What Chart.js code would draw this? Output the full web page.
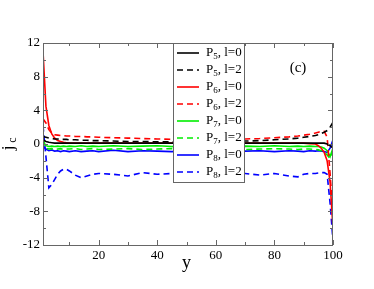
<!DOCTYPE html>
<html>
<head>
<meta charset="utf-8">
<script src="https://cdn.jsdelivr.net/npm/chart.js@4/dist/chart.umd.min.js"></script>
<style>
  body { margin: 0; background: #fff; }
  #wrap { width: 374px; height: 289px; position: relative; }
</style>
</head>
<body>
<div id="wrap"><canvas id="c"></canvas></div>
<script>
// y positions along the chain (denser near the ends)
const xs = [1,2,3,4,5,6,7,8,9,10, 12,14,16,18,20, 25,30,35,40,45, 50,55,60,65,70, 75,80,85,88,90, 92,94,95,96,97,98,99,100];

const p5l0 = [0.5,0.3,0.2,0.15,0.1,0.1,0.1,0.1,0.1,0.1, 0.1,0.1,0.1,0.1,0.1, 0.1,0.1,0.1,0.1,0.1, 0.1,0.1,0.1,0.1,0.1, 0.1,0.1,0.1,0.1,0.1, 0.1,0.1,0.1,0.1,0.1, 0.0,-0.2,-0.5];
const p5l2 = [0.9,0.8,0.7,0.65,0.6,0.6,0.55,0.55,0.55,0.5, 0.5,0.45,0.45,0.4,0.4, 0.35,0.3,0.3,0.25,0.25, 0.2,0.25,0.25,0.3,0.35, 0.4,0.5,0.6,0.7,0.8, 0.9,1.0,1.1,1.25,1.4, 1.6,2.0,2.6];
const p6l0 = [11,4.5,2.2,1.2,0.7,0.4,0.3,0.2,0.15,0.1, 0.1,0.1,0.1,0.1,0.1, 0.1,0.1,0.1,0.1,0.1, 0.1,0.1,0.1,0.1,0.1, 0.1,0.1,0.1,0.1,0.1, 0.05,0,-0.2,-0.5,-1.0,-2.0,-4.5,-10];
const p6l2 = [3.0,2.5,1.7,1.3,1.1,1.05,1.0,1.0,0.95,0.95, 0.9,0.9,0.85,0.85,0.8, 0.75,0.7,0.65,0.6,0.55, 0.5,0.5,0.5,0.55,0.6, 0.65,0.75,0.85,0.95,1.05, 1.15,1.3,1.4,1.5,1.5, 0.8,-3.5,-8.5];
const p7l0 = [0.3,-0.2,-0.3,-0.25,-0.3,-0.25,-0.3,-0.25,-0.3,-0.25, -0.3,-0.2,-0.3,-0.25,-0.3, -0.2,-0.3,-0.25,-0.2,-0.3, -0.25,-0.3,-0.2,-0.3,-0.25, -0.3,-0.2,-0.3,-0.25,-0.3, -0.25,-0.3,-0.3,-0.35,-0.5, -0.8,-1.5,-0.5];
const p7l2 = [0.5,-0.5,-0.6,-0.55,-0.65,-0.6,-0.55,-0.65,-0.6,-0.6, -0.55,-0.65,-0.6,-0.55,-0.65, -0.6,-0.55,-0.65,-0.6,-0.55, -0.65,-0.6,-0.6,-0.55,-0.65, -0.6,-0.55,-0.6,-0.65,-0.6, -0.6,-0.65,-0.7,-0.8,-1.0, -1.3,-1.7,-0.8];
const p8l0 = [-0.3,-0.6,-0.8,-0.7,-0.85,-0.8,-0.9,-0.8,-0.85,-0.9, -0.8,-0.9,-0.85,-0.8,-0.9, -0.75,-0.9,-0.8,-0.85,-0.9, -0.8,-0.85,-0.75,-0.9,-0.85, -0.8,-0.9,-0.8,-0.85,-0.9, -0.8,-0.85,-0.8,-0.85,-0.9, -1.0,-0.5,0.5];
const p8l2 = [2.2,-1.5,-5.2,-4.8,-4.2,-3.6,-3.2,-3.0,-3.0,-3.2, -3.7,-4.0,-3.8,-3.6,-3.5, -3.6,-3.8,-3.4,-3.6,-3.5, -3.6,-3.7,-3.5,-3.6,-3.5, -3.7,-3.5,-3.8,-3.9,-3.6, -3.5,-3.5,-3.45,-3.4,-3.4, -3.6,-7,-11.5];

const seriesIdx = ['5','5','6','6','7','7','8','8'];
const seriesL = ['0','2','0','2','0','2','0','2'];
const seriesVals = [p5l0, p5l2, p6l0, p6l2, p7l0, p7l2, p8l0, p8l2];
const colors = ['#000000','#000000','#ff0000','#ff0000','#00ee00','#00ee00','#0000ff','#0000ff'];

const xTicks = [20, 40, 60, 80, 100];
const yTicks = [-12, -8, -4, 0, 4, 8, 12];

const FONT = '"Liberation Serif", "Times New Roman", serif';
const FRAME = '#666';

const datasets = seriesVals.map((vals, i) => ({
    label: 'P' + seriesIdx[i] + ', l=' + seriesL[i],
    data: vals.map((v, j) => ({x: xs[j], y: v})),
    borderColor: colors[i],
    borderWidth: 1.6,
    borderDash: seriesL[i] === '2' ? [6, 4] : [],
    pointRadius: 0,
    tension: 0,
    fill: false
}));

const decor = {
    id: 'decor',
    afterDraw(chart) {
        const ctx = chart.ctx;
        const a = chart.chartArea;
        const sx = chart.scales.x, sy = chart.scales.y;
        ctx.save();
        // frame
        ctx.strokeStyle = FRAME;
        ctx.lineWidth = 1;
        ctx.strokeRect(a.left + 0.5, a.top + 0.5, a.right - a.left - 1, a.bottom - a.top);
        // inward ticks
        ctx.beginPath();
        for (let v = 10; v <= 100; v += 10) {
            const px = Math.round(sx.getPixelForValue(v)) + 0.5;
            const len = v % 20 === 0 ? 5 : 3;
            ctx.moveTo(px, a.bottom); ctx.lineTo(px, a.bottom - len);
            ctx.moveTo(px, a.top); ctx.lineTo(px, a.top + len);
        }
        for (let v = -12; v <= 12; v += 2) {
            const py = Math.round(sy.getPixelForValue(v)) + 0.5;
            const len = v % 4 === 0 ? 5 : 3;
            ctx.moveTo(a.left, py); ctx.lineTo(a.left + len, py);
            ctx.moveTo(a.right, py); ctx.lineTo(a.right - len, py);
        }
        ctx.stroke();

        // legend box
        const lx = a.left + 130, ly = a.top, lw = 71, lh = 139;
        ctx.fillStyle = '#fff';
        ctx.fillRect(lx, ly, lw, lh);
        ctx.strokeStyle = FRAME;
        ctx.strokeRect(lx + 0.5, ly + 0.5, lw, lh);
        chart.data.datasets.forEach((ds, i) => {
            const yy = ly + 10 + i * 17;
            ctx.strokeStyle = ds.borderColor;
            ctx.lineWidth = 1.6;
            ctx.setLineDash(ds.borderDash);
            ctx.beginPath();
            ctx.moveTo(lx + 4, yy); ctx.lineTo(lx + 26, yy);
            ctx.stroke();
            ctx.setLineDash([]);
            ctx.fillStyle = '#000';
            ctx.textBaseline = 'middle';
            ctx.textAlign = 'left';
            let tx = lx + 33;
            ctx.font = '13px ' + FONT;
            ctx.fillText('P', tx, yy);
            tx += ctx.measureText('P').width;
            ctx.font = '9px ' + FONT;
            ctx.fillText(seriesIdx[i], tx, yy + 4);
            tx += ctx.measureText(seriesIdx[i]).width;
            ctx.font = '13px ' + FONT;
            ctx.fillText(', l=' + seriesL[i], tx, yy);
        });

        // panel label
        ctx.fillStyle = '#000';
        ctx.font = '15px ' + FONT;
        ctx.textAlign = 'center';
        ctx.fillText('(c)', a.left + 255, a.top + 25);

        // axis titles
        ctx.font = '18px ' + FONT;
        ctx.fillText('y', sx.getPixelForValue(50), a.bottom + 18);
        ctx.save();
        ctx.translate(9, 146);
        ctx.rotate(-Math.PI / 2);
        ctx.textAlign = 'center';
        ctx.font = '17px ' + FONT;
        ctx.fillText('j', -2, 0);
        ctx.font = '12px ' + FONT;
        ctx.fillText('c', 6, 4);
        ctx.restore();
        ctx.restore();
    }
};

new Chart(document.getElementById('c').getContext('2d'), {
    type: 'line',
    data: { datasets: datasets },
    options: {
        responsive: true,
        maintainAspectRatio: false,
        animation: false,
        layout: { padding: { left: 0, top: 43, right: 41, bottom: 0 } },
        plugins: { legend: { display: false }, tooltip: { enabled: false } },
        scales: {
            x: {
                type: 'linear',
                min: 1, max: 100,
                afterBuildTicks: (s) => { s.ticks = xTicks.map(v => ({value: v})); },
                afterFit: (s) => { s.height = 44; },
                grid: { display: false, drawTicks: false },
                border: { display: false },
                ticks: { color: '#000', font: { family: FONT, size: 13 }, padding: 3, maxRotation: 0 }
            },
            y: {
                type: 'linear',
                min: -12, max: 12,
                afterBuildTicks: (s) => { s.ticks = yTicks.map(v => ({value: v})); },
                afterFit: (s) => { s.width = 43; },
                grid: { display: false, drawTicks: false },
                border: { display: false },
                ticks: { color: '#000', font: { family: FONT, size: 13 }, padding: 3 }
            }
        }
    },
    plugins: [decor]
});
</script>
</body>
</html>
